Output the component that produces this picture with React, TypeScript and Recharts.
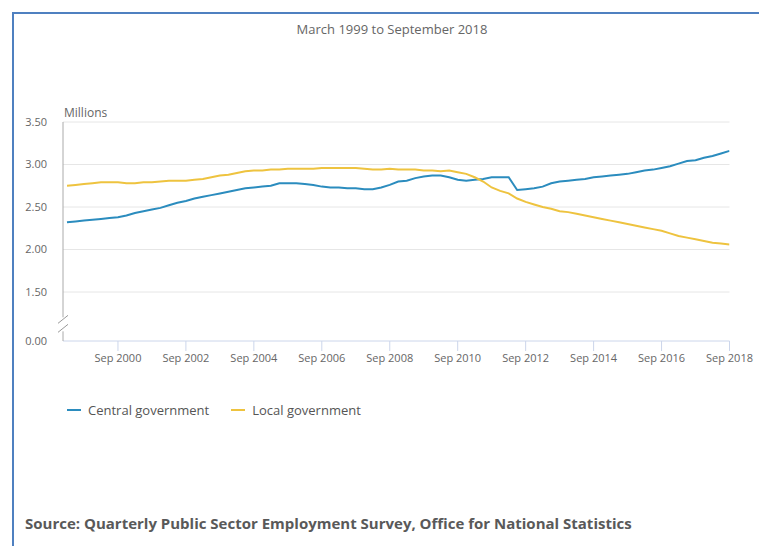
import React from 'react';
import { LineChart, Line, XAxis, YAxis, CartesianGrid, ReferenceDot } from 'recharts';

// quarterly, March 1999 .. September 2018 (millions)
const MONTHS = ['Mar', 'Jun', 'Sep', 'Dec'];
const FIRST_YEAR = 1999;

const central = [
  2.32, 2.33, 2.34, 2.35, 2.36, 2.37, 2.38, 2.40, 2.43, 2.45,
  2.47, 2.49, 2.52, 2.55, 2.57, 2.60, 2.62, 2.64, 2.66, 2.68,
  2.70, 2.72, 2.73, 2.74, 2.75, 2.78, 2.78, 2.78, 2.77, 2.76,
  2.74, 2.73, 2.73, 2.72, 2.72, 2.71, 2.71, 2.73, 2.76, 2.80,
  2.81, 2.84, 2.86, 2.87, 2.87, 2.85, 2.82, 2.81, 2.82, 2.83,
  2.85, 2.85, 2.85, 2.70, 2.71, 2.72, 2.74, 2.78, 2.80, 2.81,
  2.82, 2.83, 2.85, 2.86, 2.87, 2.88, 2.89, 2.91, 2.93, 2.94,
  2.96, 2.98, 3.01, 3.04, 3.05, 3.08, 3.10, 3.13, 3.16,
];

const local = [
  2.75, 2.76, 2.77, 2.78, 2.79, 2.79, 2.79, 2.78, 2.78, 2.79,
  2.79, 2.80, 2.81, 2.81, 2.81, 2.82, 2.83, 2.85, 2.87, 2.88,
  2.90, 2.92, 2.93, 2.93, 2.94, 2.94, 2.95, 2.95, 2.95, 2.95,
  2.96, 2.96, 2.96, 2.96, 2.96, 2.95, 2.94, 2.94, 2.95, 2.94,
  2.94, 2.94, 2.93, 2.93, 2.92, 2.93, 2.91, 2.89, 2.85, 2.80,
  2.73, 2.69, 2.66, 2.60, 2.56, 2.53, 2.50, 2.48, 2.45, 2.44,
  2.42, 2.40, 2.38, 2.36, 2.34, 2.32, 2.30, 2.28, 2.26, 2.24,
  2.22, 2.19, 2.16, 2.14, 2.12, 2.10, 2.08, 2.07, 2.06,
];

const series = [
  { key: 'central', name: 'Central government', color: '#2b8cbe' },
  { key: 'local', name: 'Local government', color: '#eec33f' },
];

// Sep 2000, Sep 2002, ... Sep 2018 (quarter index)
const xTicks = [6, 14, 22, 30, 38, 46, 54, 62, 70, 78];
// broken axis: bottom tick stands for 0.00
const yBreakBottom = 0.924;
const yTicks = [yBreakBottom, 1.5, 2, 2.5, 3, 3.5];
const gridValues = [1.5, 2, 2.5, 3, 3.5];

const quarters = central.map((_, i) => `${MONTHS[i % 4]} ${FIRST_YEAR + Math.floor(i / 4)}`);
const data = quarters.map((q, i) => ({ i, quarter: q, central: central[i], local: local[i] }));

const FONT = '"Open Sans", "Noto Sans", sans-serif';

const AxisBreak = (props: any) => {
  const { cx, cy } = props;
  return (
    <g>
      <rect x={cx - 3} y={cy - 7} width={6} height={14} fill="#fff" />
      <line x1={cx - 5} y1={cy - 1} x2={cx + 5} y2={cy - 9} stroke="#999" strokeWidth={1} />
      <line x1={cx - 5} y1={cy + 8} x2={cx + 5} y2={cy} stroke="#999" strokeWidth={1} />
    </g>
  );
};

export default function App() {
  return (
    <div style={{ position: 'absolute', left: 0, top: 0, width: 759, height: 546, overflow: 'hidden', background: '#fff', fontFamily: FONT }}>
      <div style={{ position: 'absolute', left: 12, top: 12, width: 800, height: 600, borderTop: '2px solid #4f80c0', borderLeft: '2px solid #4f80c0' }} />
      <div style={{ position: 'absolute', left: 242, top: 20, width: 300, textAlign: 'center', fontSize: 13, lineHeight: '18px', color: '#666' }}>
        March 1999 to September 2018
      </div>
      <div style={{ position: 'absolute', left: 64, top: 105, fontSize: 12, lineHeight: '16px', color: '#666' }}>Millions</div>
      <div style={{ position: 'absolute', left: 0, top: 0 }}>
        <LineChart width={759} height={546} data={data} margin={{ top: 122, right: 29.5, bottom: 175, left: 0 }}>
          <CartesianGrid vertical={false} horizontalValues={gridValues} stroke="#e6e6e6" />
          <XAxis
            type="number"
            dataKey="i"
            domain={[-0.47, 78]}
            allowDataOverflow
            ticks={xTicks}
            tickFormatter={(v: number) => quarters[v]}
            height={30}
            tickSize={10}
            tickMargin={3}
            axisLine={{ stroke: '#ccd6eb' }}
            tickLine={{ stroke: '#ccd6eb' }}
            tick={{ fill: '#666', fontSize: 11, fontFamily: FONT }}
          />
          <YAxis
            type="number"
            domain={[yBreakBottom, 3.5]}
            allowDataOverflow
            ticks={yTicks}
            interval={0}
            tickFormatter={(v: number) => (v < 1 ? '0.00' : v.toFixed(2))}
            width={63}
            tickSize={0}
            tickMargin={16}
            tickLine={false}
            axisLine={{ stroke: '#aaa' }}
            tick={{ fill: '#666', fontSize: 11, fontFamily: FONT }}
          />
          {series.map((s) => (
            <Line
              key={s.key}
              type="linear"
              dataKey={s.key}
              name={s.name}
              stroke={s.color}
              strokeWidth={2}
              dot={false}
              isAnimationActive={false}
            />
          ))}
          <ReferenceDot x={-0.47} y={1.12} ifOverflow="visible" shape={AxisBreak} />
        </LineChart>
      </div>
      <div style={{ position: 'absolute', left: 67, top: 401, display: 'flex', alignItems: 'center', fontSize: 13, lineHeight: '18px', color: '#555' }}>
        {series.map((s) => (
          <div key={s.key} style={{ display: 'flex', alignItems: 'center', marginRight: 22 }}>
            <span style={{ display: 'inline-block', width: 14, height: 2, background: s.color, marginRight: 7 }} />
            <span>{s.name}</span>
          </div>
        ))}
      </div>
      <div style={{ position: 'absolute', left: 25, top: 512, fontSize: 15, fontWeight: 700, lineHeight: '22px', color: '#595959' }}>
        Source: Quarterly Public Sector Employment Survey, Office for National Statistics
      </div>
    </div>
  );
}
